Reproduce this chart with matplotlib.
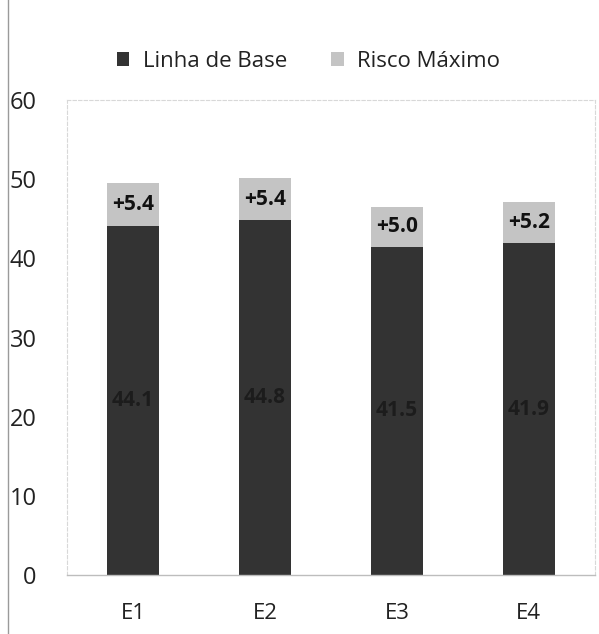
import matplotlib.pyplot as plt
from matplotlib.lines import Line2D

plt.rcParams['font.family'] = ['Open Sans', 'DejaVu Sans']

categorias = ['E1', 'E2', 'E3', 'E4']
linha_base = [44.1, 44.8, 41.5, 41.9]
risco_extra = [5.4, 5.4, 5.0, 5.2]

cor_base = '#333333'
cor_risco = '#c4c4c4'

fig = plt.figure(figsize=(5.99, 6.34), dpi=100)
ax = fig.add_axes([0.112, 0.093, 0.881, 0.749])

x = range(len(categorias))
b1 = ax.bar(x, linha_base, width=0.39, color=cor_base, label='Linha de Base')
b2 = ax.bar(x, risco_extra, width=0.39, bottom=linha_base, color=cor_risco,
            label='Risco Máximo')

for i in x:
    ax.text(i, linha_base[i] / 2, f'{linha_base[i]:.1f}', ha='center', va='center',
            fontsize=15, fontweight='bold', color='#1c1c1c')
    ax.text(i, linha_base[i] + risco_extra[i] / 2, f'+{risco_extra[i]:.1f}',
            ha='center', va='center', fontsize=15, fontweight='bold', color='#111111')

ax.set_xlim(-0.5, 3.5)
ax.set_ylim(0, 60)
ax.set_yticks(range(0, 61, 10))
ax.set_xticks(list(x))
ax.set_xticklabels(categorias)
ax.tick_params(axis='y', length=0, pad=22, labelsize=17, labelcolor='#222222')
ax.tick_params(axis='x', length=0, pad=20, labelsize=16, labelcolor='#222222')

for lado in ['top', 'right', 'left']:
    ax.spines[lado].set_color('#d8d8d8')
    ax.spines[lado].set_linestyle((0, (3, 2)))
    ax.spines[lado].set_linewidth(0.8)
ax.spines['bottom'].set_color('#bdbdbd')
ax.spines['bottom'].set_linewidth(1.0)

fig.legend(handles=[b1, b2], loc='center', bbox_to_anchor=(0.515, 0.903), ncol=2,
           frameon=False, fontsize=16, handlelength=0.55, handleheight=0.55,
           columnspacing=2.0, handletextpad=0.6, labelcolor='#222222')

# fio vertical na margem esquerda
fig.add_artist(Line2D([0.014, 0.014], [0.0, 1.0], transform=fig.transFigure,
                      color='#9a9a9a', linewidth=1.0))

fig.savefig('out.png', dpi=100, facecolor='white')
